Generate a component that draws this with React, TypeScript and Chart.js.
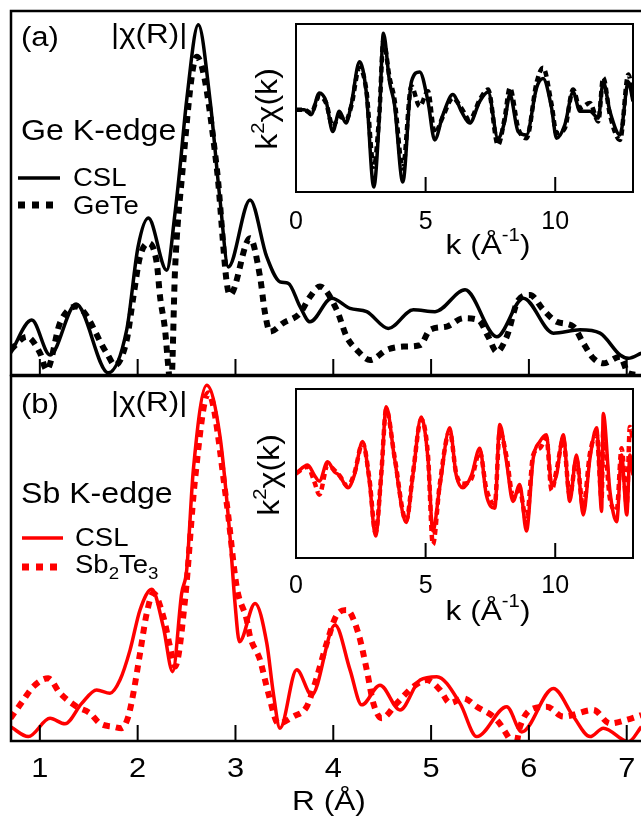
import React, { useEffect, useRef } from "react";
import { Chart, registerables } from "chart.js";

Chart.register(...registerables);

const FONT = "'Liberation Sans', Arial, Helvetica, sans-serif";

// ---------- axis ticks ----------
const R_TICKS = [1, 2, 3, 4, 5, 6, 7];
const K_TICKS = [0, 5, 10];
const R_MIN = 0.705;
const R_MAX = 7.146;
const K_MIN = 0;
const K_MAX = 13;

// ---------- panel (a): Ge K-edge |chi(R)| ----------
const R_CSL_A = [0.70, 0.917, 1.104, 1.370, 1.700, 1.888, 2.004, 2.109, 2.297, 2.382, 2.433, 2.501, 2.620, 2.740, 2.842, 2.927, 3.149, 3.319, 3.455, 3.540, 3.660, 3.762, 3.984, 4.171, 4.342, 4.563, 4.819, 5.040, 5.347, 5.671, 5.943, 6.250, 6.523, 6.727, 6.932, 7.017, 7.15];
const CSL_A = [0.060, 0.151, 0.055, 0.195, 0.006, 0.124, 0.352, 0.431, 0.288, 0.445, 0.571, 0.755, 0.962, 0.755, 0.481, 0.297, 0.481, 0.325, 0.256, 0.252, 0.188, 0.146, 0.211, 0.183, 0.174, 0.128, 0.179, 0.174, 0.234, 0.105, 0.211, 0.115, 0.124, 0.115, 0.055, 0.046, 0.060];

const R_GETE_A = [0.70, 0.866, 1.002, 1.070, 1.206, 1.370, 1.684, 1.768, 1.888, 1.956, 2.024, 2.109, 2.195, 2.229, 2.280, 2.313, 2.341, 2.382, 2.450, 2.604, 2.808, 2.911, 2.944, 3.149, 3.251, 3.302, 3.353, 3.489, 3.660, 3.762, 3.864, 4.035, 4.137, 4.240, 4.376, 4.546, 4.716, 4.887, 4.989, 5.160, 5.330, 5.483, 5.585, 5.671, 5.773, 5.892, 6.012, 6.148, 6.285, 6.455, 6.557, 6.659, 6.761, 6.932, 7.017, 7.15];
const GETE_A = [0.069, 0.105, 0.060, 0.014, 0.143, 0.188, 0.060, 0.027, 0.096, 0.215, 0.325, 0.362, 0.308, 0.215, 0.124, 0.023, -0.041, 0.288, 0.536, 0.874, 0.571, 0.253, 0.220, 0.376, 0.270, 0.170, 0.119, 0.143, 0.170, 0.215, 0.243, 0.179, 0.105, 0.069, 0.041, 0.069, 0.078, 0.082, 0.124, 0.133, 0.156, 0.151, 0.105, 0.064, 0.105, 0.206, 0.220, 0.179, 0.146, 0.133, 0.087, 0.046, 0.032, 0.050, 0.005, 0.0];

// ---------- panel (b): Sb K-edge |chi(R)| ----------
const R_CSL_B = [0.70, 0.882, 1.104, 1.257, 1.428, 1.581, 1.717, 1.819, 1.922, 2.024, 2.144, 2.262, 2.358, 2.450, 2.501, 2.569, 2.706, 2.842, 2.944, 2.995, 3.041, 3.200, 3.320, 3.387, 3.455, 3.626, 3.780, 4.018, 4.171, 4.291, 4.478, 4.682, 4.887, 5.058, 5.296, 5.467, 5.773, 5.927, 6.250, 6.455, 6.625, 6.761, 7.017, 7.15];
const CSL_B = [0.039, 0.012, 0.062, 0.047, 0.103, 0.140, 0.131, 0.167, 0.249, 0.359, 0.416, 0.313, 0.190, 0.405, 0.468, 0.742, 0.975, 0.834, 0.560, 0.378, 0.272, 0.377, 0.268, 0.131, 0.035, 0.195, 0.126, 0.318, 0.195, 0.099, 0.153, 0.085, 0.167, 0.176, 0.103, 0.012, 0.094, 0.025, 0.144, 0.067, 0.012, 0.035, -0.002, 0.039];

const R_SBTE_B = [0.70, 0.831, 0.933, 1.086, 1.206, 1.377, 1.513, 1.615, 1.751, 1.837, 1.904, 1.956, 2.024, 2.093, 2.160, 2.262, 2.331, 2.382, 2.484, 2.586, 2.722, 2.910, 3.012, 3.115, 3.149, 3.251, 3.336, 3.438, 3.591, 3.728, 3.813, 3.933, 4.035, 4.137, 4.256, 4.342, 4.410, 4.495, 4.648, 4.819, 4.955, 5.091, 5.193, 5.330, 5.467, 5.671, 5.807, 5.858, 5.909, 6.012, 6.183, 6.352, 6.659, 6.829, 7.000, 7.15];
const SBTE_B = [0.062, 0.112, 0.149, 0.172, 0.131, 0.094, 0.076, 0.048, 0.039, 0.035, 0.067, 0.131, 0.240, 0.350, 0.405, 0.341, 0.258, 0.204, 0.386, 0.715, 0.953, 0.652, 0.423, 0.332, 0.286, 0.222, 0.131, 0.048, 0.067, 0.094, 0.158, 0.268, 0.345, 0.359, 0.295, 0.195, 0.103, 0.062, 0.103, 0.149, 0.167, 0.140, 0.104, 0.117, 0.094, 0.058, 0.003, -0.019, 0.039, 0.085, 0.094, 0.067, 0.085, 0.048, 0.058, 0.071];

// ---------- inset (a): Ge k^2 chi(k) ----------
const K_A = [0, 0.32, 0.58, 0.90, 1.16, 1.42, 1.67, 1.93, 2.13, 2.45, 2.71, 3.0, 3.22, 3.37, 3.61, 3.80, 4.12, 4.45, 4.77, 5.09, 5.35, 5.67, 6.05, 6.38, 6.70, 7.09, 7.41, 7.79, 8.05, 8.25, 8.57, 8.89, 9.28, 9.53, 9.86, 10.05, 10.37, 10.69, 10.95, 11.34, 11.66, 11.85, 12.11, 12.50, 12.82, 13.0];
const KCSL_A = [-0.02, -0.02, -0.08, 0.18, 0.08, -0.28, -0.04, -0.18, 0.04, 0.55, 0.19, -0.94, -0.08, 0.89, 0.31, 0.04, -0.88, 0.31, 0.43, 0.08, -0.38, -0.08, 0.16, -0.04, -0.18, 0.08, 0.19, -0.36, -0.16, 0.16, -0.28, -0.32, 0.24, 0.35, 0.00, -0.36, -0.20, 0.19, -0.04, -0.04, -0.12, 0.31, -0.04, -0.32, 0.31, 0.08];
const KGETE_A = [-0.02, -0.02, -0.06, 0.14, 0.06, -0.22, -0.10, -0.14, 0.02, 0.48, 0.22, -0.70, -0.04, 0.80, 0.36, 0.10, -0.72, 0.26, 0.02, 0.20, -0.30, -0.10, 0.12, 0.00, -0.14, 0.10, 0.22, -0.44, -0.12, 0.24, -0.24, -0.36, 0.30, 0.48, 0.04, -0.30, -0.24, 0.22, 0.00, 0.06, -0.16, 0.36, -0.08, -0.38, 0.40, 0.14];

// ---------- inset (b): Sb k^2 chi(k) ----------
const K_B = [0, 0.45, 0.71, 0.90, 1.22, 1.48, 1.67, 2.0, 2.25, 2.57, 2.83, 3.07, 3.29, 3.48, 3.80, 4.25, 4.51, 4.83, 5.09, 5.28, 5.54, 5.93, 6.18, 6.44, 6.77, 7.09, 7.34, 7.67, 7.86, 8.12, 8.37, 8.63, 8.89, 9.15, 9.41, 9.66, 9.86, 10.05, 10.31, 10.56, 10.82, 11.08, 11.34, 11.60, 11.79, 11.85, 12.11, 12.37, 12.56, 12.76, 12.88, 13.0];
const KCSL_B = [0, 0.10, -0.02, -0.09, 0.14, 0.02, -0.02, -0.17, -0.02, 0.38, -0.09, -0.74, -0.02, 0.79, 0.18, -0.58, -0.02, 0.67, 0.18, -0.68, -0.17, 0.54, -0.02, -0.17, -0.02, 0.30, -0.25, -0.41, 0.58, 0.14, -0.33, -0.13, -0.68, 0.18, 0.38, 0.46, -0.13, -0.02, 0.46, -0.33, 0.22, -0.49, 0.18, 0.54, -0.45, 0.71, -0.21, -0.57, 0.22, -0.49, 0.22, -0.02];
const KSBTE_B = [0, 0.08, -0.10, -0.25, 0.10, 0.04, -0.02, -0.15, 0.00, 0.36, -0.06, -0.70, 0.00, 0.76, 0.20, -0.56, 0.00, 0.64, 0.22, -0.84, -0.14, 0.50, 0.00, -0.12, -0.06, 0.26, -0.18, -0.36, 0.50, 0.20, -0.26, -0.20, -0.56, 0.22, 0.30, 0.42, -0.20, 0.04, 0.40, -0.26, 0.16, -0.40, 0.24, 0.46, -0.30, 0.50, -0.30, -0.44, 0.30, -0.36, 0.55, 0.40];

const BLACK = "#000000";
const RED = "#ff0000";
const SX = 1.1; // horizontal text stretch, as in the reference figure

type Part = { t: string; size: number; dy?: number };

function pts(xs: number[], ys: number[]) {
  return xs.map((x, i) => ({ x, y: ys[i] }));
}

function drawRich(
  ctx: CanvasRenderingContext2D,
  parts: Part[],
  x: number,
  y: number,
  align: "left" | "center",
  sx: number = SX
) {
  const widths = parts.map((p) => {
    ctx.font = `${p.size}px ${FONT}`;
    return ctx.measureText(p.t).width;
  });
  const total = widths.reduce((a, b) => a + b, 0) * sx;
  const start = align === "center" ? x - total / 2 : x;
  ctx.save();
  ctx.translate(start, y);
  ctx.scale(sx, 1);
  ctx.textAlign = "left";
  ctx.textBaseline = "alphabetic";
  let cx = 0;
  parts.forEach((p, i) => {
    ctx.font = `${p.size}px ${FONT}`;
    ctx.fillText(p.t, cx, p.dy || 0);
    cx += widths[i];
  });
  ctx.restore();
}

function legendLine(ctx: CanvasRenderingContext2D, x1: number, x2: number, y: number, color: string, dashed: boolean) {
  ctx.save();
  ctx.strokeStyle = color;
  ctx.lineWidth = dashed ? 7 : 3.5;
  ctx.setLineDash(dashed ? [7, 7] : []);
  ctx.lineCap = "butt";
  ctx.beginPath();
  ctx.moveTo(x1, y);
  ctx.lineTo(x2, y);
  ctx.stroke();
  ctx.restore();
}

function lineDs(xs: number[], ys: number[], color: string, dashed: boolean, inset: boolean) {
  return {
    data: pts(xs, ys),
    borderColor: color,
    borderWidth: dashed ? (inset ? 4.5 : 6) : inset ? 3.5 : 3.5,
    borderDash: dashed ? (inset ? [6, 4] : [7, 6]) : [],
    borderCapStyle: "butt",
    pointRadius: 0,
    cubicInterpolationMode: "monotone",
    fill: false,
    clip: 0,
  };
}

function mainPlugin(id: string, showLabels: boolean, drawTexts: (ctx: CanvasRenderingContext2D) => void) {
  return {
    id,
    afterDraw(chart: any) {
      const { ctx, chartArea: a } = chart;
      const xs = chart.scales.x;
      ctx.save();
      ctx.strokeStyle = BLACK;
      ctx.lineWidth = 2.5;
      ctx.setLineDash([]);
      ctx.beginPath();
      ctx.moveTo(a.right + 5, a.top);
      ctx.lineTo(a.left, a.top);
      ctx.lineTo(a.left, a.bottom);
      ctx.lineTo(a.right + 5, a.bottom);
      ctx.stroke();
      ctx.lineWidth = 2;
      ctx.beginPath();
      R_TICKS.forEach((v) => {
        const px = xs.getPixelForValue(v);
        ctx.moveTo(px, a.bottom);
        ctx.lineTo(px, a.bottom - 16);
      });
      ctx.stroke();
      ctx.fillStyle = BLACK;
      if (showLabels) {
        R_TICKS.forEach((v) => {
          drawRich(ctx, [{ t: String(v), size: 28 }], xs.getPixelForValue(v), a.bottom + 36, "center");
        });
        drawRich(ctx, [{ t: "R (Å)", size: 28 }], 329, a.bottom + 69, "center", 1.13);
      }
      drawTexts(ctx);
      ctx.restore();
    },
  };
}

function insetPlugin(id: string, labelBase: number, kBase: number, ylabX: number, ylabY: number) {
  return {
    id,
    beforeDraw(chart: any) {
      const { ctx, chartArea: a } = chart;
      ctx.save();
      ctx.fillStyle = "#ffffff";
      ctx.fillRect(a.left, a.top, a.right - a.left, a.bottom - a.top);
      ctx.restore();
    },
    afterDraw(chart: any) {
      const { ctx, chartArea: a } = chart;
      const xs = chart.scales.x;
      ctx.save();
      ctx.strokeStyle = BLACK;
      ctx.lineWidth = 2;
      ctx.setLineDash([]);
      ctx.strokeRect(a.left, a.top, a.right - a.left, a.bottom - a.top);
      ctx.beginPath();
      K_TICKS.forEach((v) => {
        const px = xs.getPixelForValue(v);
        ctx.moveTo(px, a.bottom);
        ctx.lineTo(px, a.bottom - 15);
      });
      ctx.stroke();
      ctx.fillStyle = BLACK;
      K_TICKS.forEach((v) => {
        drawRich(ctx, [{ t: String(v), size: 25 }], xs.getPixelForValue(v), labelBase, "center", 1.0);
      });
      drawRich(
        ctx,
        [
          { t: "k (Å", size: 28 },
          { t: "-1", size: 18, dy: -13 },
          { t: ")", size: 28 },
        ],
        488,
        kBase,
        "center",
        1.13
      );
      ctx.translate(ylabX, ylabY);
      ctx.rotate(-Math.PI / 2);
      drawRich(
        ctx,
        [
          { t: "k", size: 30 },
          { t: "2", size: 19, dy: -13 },
          { t: "χ(k)", size: 30 },
        ],
        0,
        0,
        "center",
        1.07
      );
      ctx.restore();
    },
  };
}

function makeConfig(datasets: any[], padding: any, xmin: number, xmax: number, ymin: number, ymax: number, plugin: any) {
  return {
    type: "line",
    data: { datasets },
    options: {
      responsive: false,
      maintainAspectRatio: false,
      animation: false,
      events: [],
      layout: { padding },
      plugins: { legend: { display: false }, tooltip: { enabled: false } },
      scales: {
        x: { type: "linear", display: false, min: xmin, max: xmax },
        y: { type: "linear", display: false, min: ymin, max: ymax },
      },
    },
    plugins: [plugin],
  } as any;
}

export default function App() {
  const refA = useRef<HTMLCanvasElement>(null);
  const refB = useRef<HTMLCanvasElement>(null);
  const refIA = useRef<HTMLCanvasElement>(null);
  const refIB = useRef<HTMLCanvasElement>(null);

  useEffect(() => {
    const decoA = mainPlugin("decoA", false, (ctx) => {
      drawRich(ctx, [{ t: "(a)", size: 27 }], 21, 46, "left", 1.15);
      drawRich(ctx, [{ t: "|χ(R)|", size: 28 }], 111, 43, "left", 1.12);
      drawRich(ctx, [{ t: "Ge K-edge", size: 30 }], 21, 140, "left", 1.07);
      legendLine(ctx, 18, 60, 178, BLACK, false);
      drawRich(ctx, [{ t: "CSL", size: 25 }], 73, 186, "left");
      legendLine(ctx, 18, 60, 205, BLACK, true);
      drawRich(ctx, [{ t: "GeTe", size: 25 }], 73, 214, "left");
    });
    const decoB = mainPlugin("decoB", true, (ctx) => {
      drawRich(ctx, [{ t: "(b)", size: 27 }], 21, 413, "left", 1.15);
      drawRich(ctx, [{ t: "|χ(R)|", size: 28 }], 111, 411, "left", 1.12);
      drawRich(ctx, [{ t: "Sb K-edge", size: 30 }], 21, 503, "left", 1.07);
      legendLine(ctx, 22, 63, 538, RED, false);
      drawRich(ctx, [{ t: "CSL", size: 25 }], 75, 546, "left");
      legendLine(ctx, 22, 63, 567, RED, true);
      drawRich(
        ctx,
        [
          { t: "Sb", size: 25 },
          { t: "2", size: 17, dy: 6 },
          { t: "Te", size: 25 },
          { t: "3", size: 17, dy: 6 },
        ],
        75,
        573,
        "left"
      );
    });

    const charts = [
      new Chart(
        refA.current!,
        makeConfig(
          [lineDs(R_GETE_A, GETE_A, BLACK, true, false), lineDs(R_CSL_A, CSL_A, BLACK, false, false)],
          { left: 11, top: 11, right: 0, bottom: 817 - 375 },
          R_MIN, R_MAX, 0, 1, decoA
        )
      ),
      new Chart(
        refB.current!,
        makeConfig(
          [lineDs(R_SBTE_B, SBTE_B, RED, true, false), lineDs(R_CSL_B, CSL_B, RED, false, false)],
          { left: 11, top: 376, right: 0, bottom: 817 - 741 },
          R_MIN, R_MAX, 0, 1, decoB
        )
      ),
      new Chart(
        refIA.current!,
        makeConfig(
          [lineDs(K_A, KGETE_A, BLACK, true, true), lineDs(K_A, KCSL_A, BLACK, false, true)],
          { left: 296, top: 24, right: 641 - 633, bottom: 817 - 192 },
          K_MIN, K_MAX, -1, 1, insetPlugin("insetA", 229, 254, 277, 109)
        )
      ),
      new Chart(
        refIB.current!,
        makeConfig(
          [lineDs(K_B, KSBTE_B, RED, true, true), lineDs(K_B, KCSL_B, RED, false, true)],
          { left: 296, top: 389, right: 641 - 633, bottom: 817 - 558 },
          K_MIN, K_MAX, -1, 1, insetPlugin("insetB", 593, 620, 279, 475)
        )
      ),
    ];
    return () => charts.forEach((c) => c.destroy());
  }, []);

  const cs: React.CSSProperties = { position: "absolute", left: 0, top: 0, width: 641, height: 817 };
  return (
    <div style={{ position: "absolute", left: 0, top: 0, width: 641, height: 817, background: "#ffffff", overflow: "hidden" }}>
      <canvas ref={refA} width={641} height={817} style={cs} />
      <canvas ref={refB} width={641} height={817} style={cs} />
      <canvas ref={refIA} width={641} height={817} style={cs} />
      <canvas ref={refIB} width={641} height={817} style={cs} />
    </div>
  );
}
